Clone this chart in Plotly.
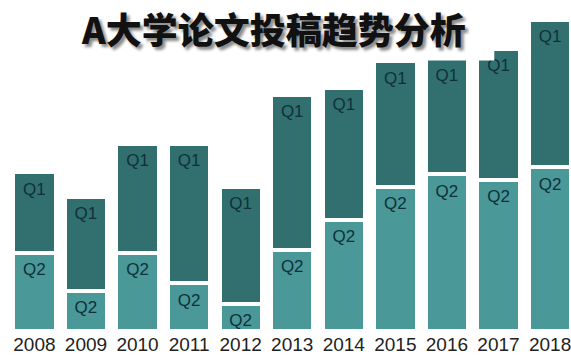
import plotly.graph_objects as go

# Paper submissions per year, split by journal tier
years = ["2008", "2009", "2010", "2011", "2012", "2013",
         "2014", "2015", "2016", "2017", "2018"]
q2 = [79, 40, 79, 48, 27, 82, 112, 145, 158, 152, 165]
q1 = [81, 95, 110, 141, 118, 156, 133, 127, 117, 133, 149]

Q1_COLOR = "#31706e"
Q2_COLOR = "#4a9898"
LABEL_COLOR = "#10303a"
LABEL_DROP = 18  # label centre sits this far below a segment's top

fig = go.Figure()

fig.add_trace(go.Bar(
    x=years, y=q2, name="Q2",
    marker=dict(color=Q2_COLOR, line=dict(color="white", width=4)),
    hoverinfo="x+y",
))
fig.add_trace(go.Bar(
    x=years, y=q1, name="Q1",
    marker=dict(color=Q1_COLOR, line=dict(color="white", width=4)),
    hoverinfo="x+y",
))

# Segment names written near the top of each segment
q2_tops = list(q2)
q1_tops = [a + b for a, b in zip(q2, q1)]
label_font = dict(family="Liberation Sans Narrow, Liberation Sans, sans-serif",
                  size=17, color=LABEL_COLOR)
fig.add_trace(go.Scatter(
    x=years, y=[t - LABEL_DROP for t in q2_tops],
    mode="text", text=["Q2"] * len(years),
    textfont=label_font, hoverinfo="skip",
))
fig.add_trace(go.Scatter(
    x=years, y=[t - LABEL_DROP for t in q1_tops],
    mode="text", text=["Q1"] * len(years),
    textfont=label_font, hoverinfo="skip",
))

fig.update_layout(
    width=571, height=355,
    margin=dict(l=0, r=0, t=0, b=21),
    paper_bgcolor="white", plot_bgcolor="white",
    barmode="stack", bargap=0.18,
    showlegend=False,
    xaxis=dict(
        type="category", range=[-0.667, 10.367],
        showgrid=False, showline=False, zeroline=False, ticks="",
        tickfont=dict(family="Liberation Sans Narrow, Liberation Sans, sans-serif",
                      size=19, color="#222222"),
    ),
    yaxis=dict(visible=False, range=[0, 334]),
    # white panel behind the title
    shapes=[dict(
        type="rect", xref="paper", yref="paper",
        x0=0.12, x1=0.8687, y0=0.8174, y1=1.0,
        fillcolor="white", line=dict(width=0), layer="above",
    )],
    annotations=[dict(
        text="A大学论文投稿趋势分析",
        xref="paper", yref="paper", x=0.48, y=0.916,
        xanchor="center", yanchor="middle", showarrow=False,
        font=dict(family="Noto Sans CJK SC", size=36, weight=900,
                  color="#111111", shadow="3px 3px 3px #8a8a8a"),
    )],
)

fig.write_html("out.html")
